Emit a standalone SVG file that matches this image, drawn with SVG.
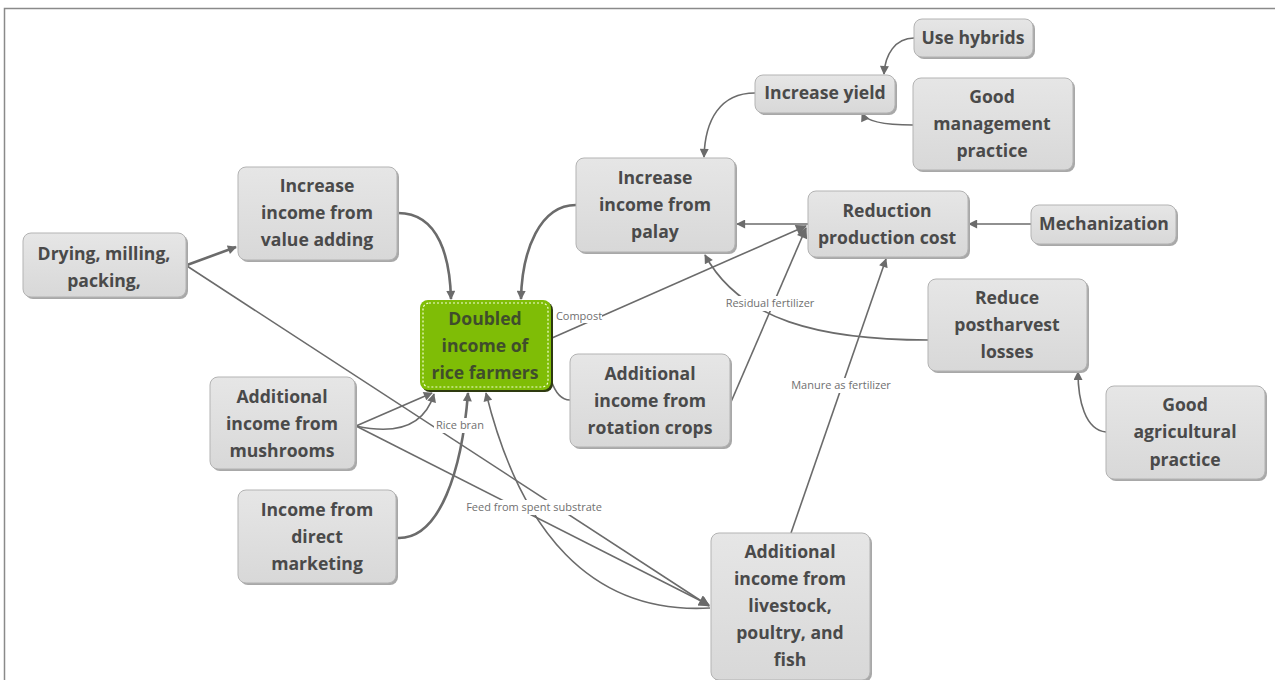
<svg xmlns="http://www.w3.org/2000/svg" width="1275" height="680" viewBox="0 0 1275 680">
<defs>
<style>
.node rect.b{fill:url(#g);stroke:#b3b3b3;stroke-width:1}
.node rect.s{fill:#a8a8a8}
.node text{font-family:"Open Sans","Noto Sans",sans-serif;font-weight:bold;font-size:17.6px;fill:#4a4a4a;text-anchor:middle}
.c{fill:none;stroke:#6b6b6b;stroke-width:1.6}
.t{stroke-width:2.6}
.lbl{font-family:"Open Sans","Noto Sans",sans-serif;font-size:11px;fill:#707070;text-anchor:middle}
</style>
<linearGradient id="g" x1="0" y1="0" x2="0" y2="1"><stop offset="0" stop-color="#e6e6e6"/><stop offset="1" stop-color="#d8d8d8"/></linearGradient>
<marker id="a" viewBox="0 0 10 10" refX="9" refY="5" markerWidth="10" markerHeight="9" markerUnits="userSpaceOnUse" orient="auto"><path d="M0,0 L10,5 L0,10 z" fill="#6b6b6b"/></marker>
<marker id="A" viewBox="0 0 10 10" refX="9" refY="5" markerWidth="13" markerHeight="11" markerUnits="userSpaceOnUse" orient="auto"><path d="M0,0 L10,5 L0,10 z" fill="#6b6b6b"/></marker>
</defs>
<rect x="0" y="0" width="1275" height="680" fill="#fff"/>
<path d="M4.5,680 V8.5 H1275" fill="none" stroke="#8a8a8a" stroke-width="1.5"/>

<g id="connectors">
<path class="c t" d="M187,265 L236,247" marker-end="url(#a)"/>
<path class="c" d="M187,266 L709,606" marker-end="url(#A)"/>
<path class="c" d="M356,426 L709,605" marker-end="url(#A)"/>
<path class="c" d="M356,426 L432,393" marker-end="url(#a)"/>
<path class="c" d="M356,426 Q420,440 434,394" marker-end="url(#a)"/>
<path class="c t" d="M397,538 C440,540 462,470 468,393" marker-end="url(#a)"/>
<path class="c" d="M710,608 C590,615 520,530 486,393" marker-end="url(#a)"/>
<path class="c t" d="M398,213 C440,213 450,260 451,299" marker-end="url(#a)"/>
<path class="c t" d="M576,205 C540,205 522,250 521,299" marker-end="url(#a)"/>
<path class="c" d="M552,338 L806,226" marker-end="url(#A)"/>
<path class="c" d="M731,402 L806,228" marker-end="url(#A)"/>
<path class="c" d="M791,533 L886,259" marker-end="url(#a)"/>
<path class="c" d="M808,224 L737,224" marker-end="url(#a)"/>
<path class="c" d="M1031,224 L969,224" marker-end="url(#a)"/>
<path class="c" d="M928,340 C820,340 740,320 705,255" marker-end="url(#a)"/>
<path class="c" d="M755,93 C720,93 705,120 704,157" marker-end="url(#a)"/>
<path class="c" d="M914,38 C895,38 885,55 884,74" marker-end="url(#a)"/>
<path class="c" d="M913,125 C885,125 866,122 862,113" marker-end="url(#a)"/>
<path class="c" d="M1106,432 C1085,430 1078,400 1078,372" marker-end="url(#a)"/>
<path class="c" d="M551,380 C556,395 562,400 570,400"/>
<rect x="556" y="308" width="46" height="15" fill="#fff"/>
<text class="lbl" x="579" y="320">Compost</text>
<rect x="720" y="296" width="100" height="15" fill="#fff"/>
<text class="lbl" x="770" y="307">Residual fertilizer</text>
<rect x="788" y="378" width="106" height="15" fill="#fff"/>
<text class="lbl" x="841" y="389">Manure as fertilizer</text>
<rect x="434" y="418" width="52" height="15" fill="#fff"/>
<text class="lbl" x="460" y="429">Rice bran</text>
<rect x="458" y="500" width="153" height="15" fill="#fff"/>
<text class="lbl" x="534" y="511">Feed from spent substrate</text>
</g>

<g id="n-drying" class="node"><rect class="s" x="25" y="235" width="163" height="64" rx="8"/><rect class="b" x="23" y="233" width="163" height="64" rx="8"/><text x="104" y="260">Drying, milling,</text><text x="104" y="287">packing,</text></g>
<g id="n-value" class="node"><rect class="s" x="240" y="169" width="159" height="93" rx="8"/><rect class="b" x="238" y="167" width="159" height="93" rx="8"/><text x="317" y="192">Increase</text><text x="317" y="219">income from</text><text x="317" y="246">value adding</text></g>
<g id="n-doubled"><rect x="422" y="302" width="131" height="90" rx="8" fill="#2e3a10"/><rect x="420" y="300" width="131" height="90" rx="8" fill="#7fbd06"/><rect x="423" y="303" width="125" height="84" rx="6" fill="none" stroke="#f4ffd8" stroke-width="1.2" stroke-dasharray="2,2"/><text x="485" y="325" font-family="'Open Sans','Noto Sans',sans-serif" font-weight="bold" font-size="17.6" fill="#3f4d2c" text-anchor="middle">Doubled</text><text x="485" y="352" font-family="'Open Sans','Noto Sans',sans-serif" font-weight="bold" font-size="17.6" fill="#3f4d2c" text-anchor="middle">income of</text><text x="485" y="379" font-family="'Open Sans','Noto Sans',sans-serif" font-weight="bold" font-size="17.6" fill="#3f4d2c" text-anchor="middle">rice farmers</text></g>
<g id="n-palay" class="node"><rect class="s" x="578" y="160" width="159" height="94" rx="8"/><rect class="b" x="576" y="158" width="159" height="94" rx="8"/><text x="655" y="184">Increase</text><text x="655" y="211">income from</text><text x="655" y="238">palay</text></g>
<g id="n-yield" class="node"><rect class="s" x="757" y="77" width="140" height="38" rx="8"/><rect class="b" x="755" y="75" width="140" height="38" rx="8"/><text x="825" y="99">Increase yield</text></g>
<g id="n-hybrids" class="node"><rect class="s" x="916" y="21" width="119" height="38" rx="8"/><rect class="b" x="914" y="19" width="119" height="38" rx="8"/><text x="973" y="44">Use hybrids</text></g>
<g id="n-gmp" class="node"><rect class="s" x="915" y="80" width="160" height="92" rx="8"/><rect class="b" x="913" y="78" width="160" height="92" rx="8"/><text x="992" y="103">Good</text><text x="992" y="130">management</text><text x="992" y="157">practice</text></g>
<g id="n-reduction" class="node"><rect class="s" x="810" y="193" width="160" height="66" rx="8"/><rect class="b" x="808" y="191" width="160" height="66" rx="8"/><text x="887" y="217">Reduction</text><text x="887" y="244">production cost</text></g>
<g id="n-mech" class="node"><rect class="s" x="1033" y="207" width="145" height="39" rx="8"/><rect class="b" x="1031" y="205" width="145" height="39" rx="8"/><text x="1104" y="230">Mechanization</text></g>
<g id="n-postharvest" class="node"><rect class="s" x="930" y="281" width="159" height="92" rx="8"/><rect class="b" x="928" y="279" width="159" height="92" rx="8"/><text x="1007" y="304">Reduce</text><text x="1007" y="331">postharvest</text><text x="1007" y="358">losses</text></g>
<g id="n-gap" class="node"><rect class="s" x="1108" y="388" width="159" height="93" rx="8"/><rect class="b" x="1106" y="386" width="159" height="93" rx="8"/><text x="1185" y="411">Good</text><text x="1185" y="438">agricultural</text><text x="1185" y="466">practice</text></g>
<g id="n-rotation" class="node"><rect class="s" x="572" y="356" width="160" height="93" rx="8"/><rect class="b" x="570" y="354" width="160" height="93" rx="8"/><text x="650" y="380">Additional</text><text x="650" y="407">income from</text><text x="650" y="434">rotation crops</text></g>
<g id="n-mushrooms" class="node"><rect class="s" x="212" y="379" width="145" height="92" rx="8"/><rect class="b" x="210" y="377" width="145" height="92" rx="8"/><text x="282" y="403">Additional</text><text x="282" y="430">income from</text><text x="282" y="457">mushrooms</text></g>
<g id="n-direct" class="node"><rect class="s" x="240" y="492" width="158" height="93" rx="8"/><rect class="b" x="238" y="490" width="158" height="93" rx="8"/><text x="317" y="516">Income from</text><text x="317" y="543">direct</text><text x="317" y="570">marketing</text></g>
<g id="n-livestock" class="node"><rect class="s" x="713" y="535" width="159" height="147" rx="8"/><rect class="b" x="711" y="533" width="159" height="147" rx="8"/><text x="790" y="558">Additional</text><text x="790" y="585">income from</text><text x="790" y="612">livestock,</text><text x="790" y="639">poultry, and</text><text x="790" y="666">fish</text></g>
</svg>
